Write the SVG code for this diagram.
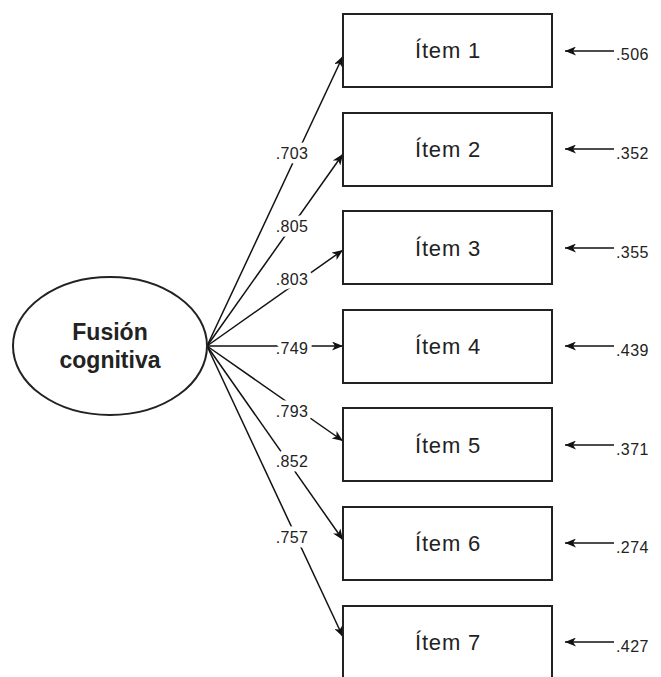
<svg xmlns="http://www.w3.org/2000/svg" width="661" height="677" viewBox="0 0 661 677">
<defs>
<marker id="ah" markerWidth="11" markerHeight="9" refX="11" refY="4.5" orient="auto" markerUnits="userSpaceOnUse">
<path d="M0,0 L11,4.5 L0,9 L3,4.5 Z" fill="#111"/>
</marker>
<style>
.box{fill:#fff;stroke:#222;stroke-width:2}
.ln{stroke:#111;stroke-width:1.5;fill:none;marker-end:url(#ah)}
.it{font-family:"Liberation Sans",Arial,sans-serif;font-size:22px;letter-spacing:0.8px;fill:#222;text-anchor:middle}
.lb{font-family:"Liberation Sans",Arial,sans-serif;font-size:16px;letter-spacing:0.4px;fill:#222;text-anchor:middle;stroke:#fff;stroke-width:9;paint-order:stroke;stroke-linejoin:round}
.er{font-family:"Liberation Sans",Arial,sans-serif;font-size:16px;letter-spacing:0.4px;fill:#222}
.fx{font-family:"Liberation Sans",Arial,sans-serif;font-size:23px;font-weight:bold;fill:#222;text-anchor:middle}
</style>
</defs>
<rect width="661" height="677" fill="#fff"/>
<g id="connectors">
<line class="ln" x1="207" y1="346" x2="343" y2="56"/>
<line class="ln" x1="207" y1="346" x2="343" y2="154"/>
<line class="ln" x1="207" y1="346" x2="343" y2="250"/>
<line class="ln" x1="207" y1="346" x2="343" y2="346"/>
<line class="ln" x1="207" y1="346" x2="343" y2="441"/>
<line class="ln" x1="207" y1="346" x2="343" y2="540"/>
<line class="ln" x1="207" y1="346" x2="343" y2="637"/>
<text class="lb" x="292" y="159">.703</text>
<text class="lb" x="292" y="232">.805</text>
<text class="lb" x="292" y="285">.803</text>
<text class="lb" x="292" y="354">.749</text>
<text class="lb" x="292" y="417">.793</text>
<text class="lb" x="292" y="467">.852</text>
<text class="lb" x="292" y="543">.757</text>
<line class="ln" x1="614" y1="51" x2="565" y2="51"/>
<line class="ln" x1="614" y1="149" x2="565" y2="149"/>
<line class="ln" x1="614" y1="248" x2="565" y2="248"/>
<line class="ln" x1="614" y1="346" x2="565" y2="346"/>
<line class="ln" x1="614" y1="445" x2="565" y2="445"/>
<line class="ln" x1="614" y1="543" x2="565" y2="543"/>
<line class="ln" x1="614" y1="642" x2="565" y2="642"/>
<text class="er" x="616" y="60">.506</text>
<text class="er" x="616" y="159">.352</text>
<text class="er" x="616" y="258">.355</text>
<text class="er" x="616" y="356">.439</text>
<text class="er" x="616" y="455">.371</text>
<text class="er" x="616" y="553">.274</text>
<text class="er" x="616" y="652">.427</text>
</g>
<g id="factor">
<ellipse cx="110" cy="346" rx="97" ry="69" fill="#fff" stroke="#222" stroke-width="2"/>
<text class="fx" x="110" y="340">Fusión</text>
<text class="fx" x="110" y="368">cognitiva</text>
</g>
<g id="item1"><rect class="box" x="343" y="14" width="209" height="73"/><text class="it" x="448" y="58">Ítem 1</text></g>
<g id="item2"><rect class="box" x="343" y="113" width="209" height="73"/><text class="it" x="448" y="157">Ítem 2</text></g>
<g id="item3"><rect class="box" x="343" y="211" width="209" height="73"/><text class="it" x="448" y="256">Ítem 3</text></g>
<g id="item4"><rect class="box" x="343" y="310" width="209" height="73"/><text class="it" x="448" y="354">Ítem 4</text></g>
<g id="item5"><rect class="box" x="343" y="408" width="209" height="73"/><text class="it" x="448" y="453">Ítem 5</text></g>
<g id="item6"><rect class="box" x="343" y="507" width="209" height="73"/><text class="it" x="448" y="551">Ítem 6</text></g>
<g id="item7"><rect class="box" x="343" y="606" width="209" height="73"/><text class="it" x="448" y="650">Ítem 7</text></g>
</svg>
